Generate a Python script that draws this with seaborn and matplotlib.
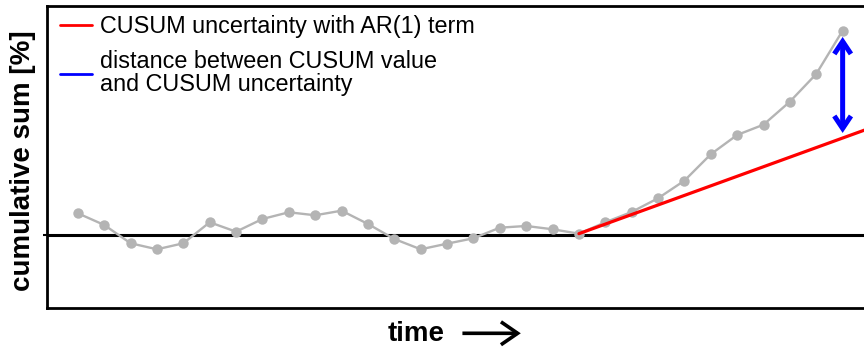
import matplotlib
matplotlib.use("Agg")
import matplotlib.pyplot as plt
import seaborn as sns
import numpy as np
import pandas as pd
from matplotlib.lines import Line2D
from matplotlib.patches import FancyArrowPatch

# ---- data ----
time_idx = list(range(1, 31))
cusum = [2.17, 1.0, -0.83, -1.43, -0.83, 1.27, 0.33, 1.6, 2.27, 1.97,
         2.43, 1.1, -0.4, -1.43, -0.87, -0.33, 0.73, 0.9, 0.57, 0.13,
         1.27, 2.3, 3.67, 5.43, 8.07, 10.0, 11.03, 13.33, 16.1, 20.43]
unc_x = [20, 31]
unc_y = [0.13, 10.65]
dist_x = 30
dist_lo = 10.2
dist_hi = 19.8
legend_labels = ["CUSUM uncertainty with AR(1) term",
                 "distance between CUSUM value\nand CUSUM uncertainty"]
ylabel = "cumulative sum [%]"
xlabel = "time"

sns.set_style("white")
plt.rcParams['font.family'] = ['Liberation Sans', 'DejaVu Sans']
plt.rcParams['text.color'] = 'black'
plt.rcParams['axes.labelcolor'] = 'black'

fig = plt.figure(figsize=(8.64, 3.49), dpi=100)
ax = fig.add_axes([0.0544, 0.1175, 0.9456, 0.8655])

df = pd.DataFrame({"t": time_idx, "v": cusum})
ax.axhline(0, color="black", lw=2.2, zorder=1)
sns.lineplot(data=df, x="t", y="v", ax=ax, color="#b4b4b4", lw=1.7,
             marker="o", markersize=7.5, markeredgewidth=0, zorder=3)
sns.lineplot(x=unc_x, y=unc_y, ax=ax, color="red", lw=2.3, zorder=4)
ax.annotate("", xy=(dist_x, dist_hi), xytext=(dist_x, dist_lo),
            arrowprops=dict(arrowstyle="<->,head_length=0.9,head_width=0.6",
                            color="blue", lw=3.6, shrinkA=0, shrinkB=0,
                            joinstyle="miter", capstyle="butt"),
            zorder=5)

ax.set_xlim(-0.17, 30.81)
ax.set_ylim(-7.3, 22.9)
ax.set_xticks([])
ax.set_yticks([0])
ax.set_yticklabels([])
ax.tick_params(axis="y", length=3, width=1.5, direction="out", left=True, color="black")
ax.set_xlabel("")
ax.set_ylabel(ylabel, fontsize=20, fontweight="bold", color="black")
ax.yaxis.set_label_coords(-0.0135, 0.488)
for s in ["left", "bottom", "top"]:
    ax.spines[s].set_color("black")
    ax.spines[s].set_linewidth(2)
ax.spines["right"].set_visible(False)

handles = [Line2D([], [], color="red", lw=2), Line2D([], [], color="blue", lw=2)]
leg = ax.legend(handles, legend_labels, loc="upper left", frameon=False,
                fontsize=16.8, handlelength=1.37, handletextpad=0.35,
                borderaxespad=0.0, borderpad=0.0, labelspacing=0.5,
                bbox_to_anchor=(0.016, 0.970))
for t in leg.get_texts():
    t.set_linespacing(1.04)
    t.set_color("black")

fig.text(0.482, 0.043, xlabel, fontsize=20, fontweight="bold", ha="center", va="center")
fig.add_artist(FancyArrowPatch(
    (0.532, 0.045), (0.606, 0.045), transform=fig.transFigure,
    arrowstyle="->,head_length=8,head_width=5.5", color="black", lw=2.6,
    mutation_scale=1.5, joinstyle="miter", capstyle="butt"))

fig.savefig("out.png", dpi=100)
